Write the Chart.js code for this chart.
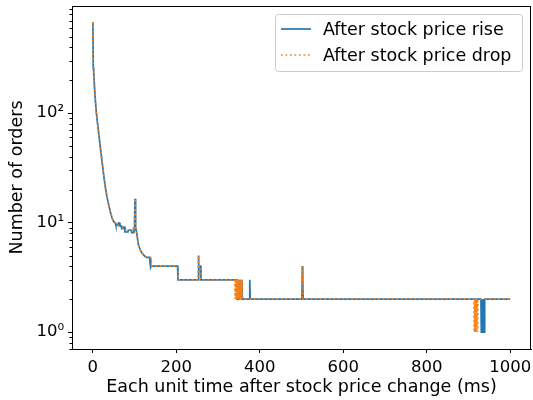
<!DOCTYPE html>
<html>
<head>
<meta charset="utf-8">
<script src="https://cdn.jsdelivr.net/npm/chart.js@4.4.0/dist/chart.umd.min.js"></script>
<style>
  html, body { margin: 0; padding: 0; background: #fff; }
  #wrap { width: 533px; height: 400px; }
</style>
</head>
<body>
<div id="wrap"><canvas id="myChart" width="533" height="400"></canvas></div>
<script>
// Values (x = ms after the price change, y = number of orders)
const riseX = [0, 1, 2, 4, 6, 8, 10, 14, 18, 22, 26, 30, 34, 38, 42, 46, 50, 54, 55, 60, 61, 64, 65, 68, 69, 72, 73, 76, 77, 84, 85, 92, 93, 98, 99, 100, 101, 102, 103, 105, 109, 113, 117, 121, 125, 129, 133, 136, 137, 138, 139, 140, 203, 204, 252, 253, 254, 258, 259,
  345, 346, 347, 348, 349, 350, 351, 352, 353, 354, 355, 356, 357, 358, 375, 376, 377,
  501, 502, 503, 504, 930, 931, 932, 933, 934, 935, 936, 937, 938, 939, 1000];
const riseY = [680, 260, 240, 170, 130, 105, 88, 66, 48, 36, 27, 21, 17, 14.5, 12.5, 11, 10.2, 9.9, 9.5, 9.5, 9.9, 9.9, 9.3, 9.3, 8.8, 8.8, 9.1, 9.1, 8.2, 8.2, 8.5, 8.5, 8.1, 8.1, 8.6, 10, 16.5, 11, 9, 8.1, 6.3, 5.7, 5.3, 5.1, 4.9, 4.8, 4.8, 4.8, 4.3, 4.8, 3.9, 4, 4, 3, 3, 5, 4, 4, 3,
  3, 2, 3, 2, 3, 2, 3, 2, 3, 2, 3, 2, 3, 2, 2, 3, 2,
  2, 4, 3, 2, 2, 1, 2, 1, 2, 1, 2, 1, 1, 2, 2];

const dropX = [0, 1, 2, 4, 6, 8, 10, 14, 18, 22, 26, 30, 34, 38, 42, 46, 50, 56, 62, 70, 78, 79, 90, 91, 96, 97, 99, 100, 101, 102, 103, 105, 109, 113, 117, 121, 125, 129, 133, 137, 140, 141, 203, 204, 252, 253, 254, 258, 259,
  340, 341, 342, 343, 344, 345, 346, 347, 348, 349, 350, 351, 352, 353, 354, 355, 356, 357, 358, 359, 360,
  501, 502, 503, 504, 913, 914, 915, 916, 917, 918, 919, 920, 921, 922, 923, 1000];
const dropY = [680, 260, 240, 170, 130, 105, 88, 66, 48, 36, 27, 21, 17, 14.5, 12.5, 11, 10.2, 9.7, 9.3, 9.0, 8.9, 8.6, 8.6, 8.9, 8.9, 8.5, 8.6, 10, 16.5, 11, 9, 8.1, 6.3, 5.7, 5.3, 5.1, 4.9, 4.8, 4.8, 4.8, 4.6, 4, 4, 3, 3, 5, 4, 4, 3,
  3, 2, 3, 2, 3, 2, 3, 2, 3, 2, 3, 2, 3, 2, 3, 2, 3, 2, 3, 2, 2,
  2, 4, 3, 2, 2, 1, 2, 1, 2, 1, 2, 1, 2, 1, 2, 2];

const seriesLabels = ["After stock price rise", "After stock price drop"];
const xTicks = [0, 200, 400, 600, 800, 1000];
const yTicks = [1, 10, 100];
const yTickLabels = ["10⁰", "10¹", "10²"];

const FONT = "'DejaVu Sans', sans-serif";
const TEXT_SIZE = 17.5;
const TICK_SIZE = 16.5;

function toPoints(xs, ys) {
    let pts = [];
    for (let i = 0; i < xs.length; i++) {
        pts.push({x: xs[i], y: ys[i]});
    }
    return pts;
}

// box round the plot area, like matplotlib spines
const framePlugin = {
    id: "frame",
    afterDraw(chart) {
        let a = chart.chartArea;
        let ctx = chart.ctx;
        ctx.save();
        ctx.strokeStyle = "#000";
        ctx.lineWidth = 1;
        ctx.strokeRect(a.left + 0.5, a.top + 0.5, a.right - a.left - 1, a.bottom - a.top);
        ctx.restore();
    }
};

// short minor ticks on the log axis
const minorTicksPlugin = {
    id: "minorTicks",
    afterDraw(chart) {
        let s = chart.scales.y;
        let ctx = chart.ctx;
        ctx.save();
        ctx.strokeStyle = "#000";
        ctx.lineWidth = 1;
        for (let d = 0.1; d <= 100; d *= 10) {
            for (let m = 2; m <= 9; m++) {
                let v = d * m;
                if (v < s.min || v > s.max) continue;
                let y = Math.round(s.getPixelForValue(v)) + 0.5;
                ctx.beginPath();
                ctx.moveTo(chart.chartArea.left, y);
                ctx.lineTo(chart.chartArea.left - 2.5, y);
                ctx.stroke();
            }
        }
        ctx.restore();
    }
};

// matplotlib-like legend in the upper right corner
const legendPlugin = {
    id: "mplLegend",
    afterDraw(chart) {
        let ctx = chart.ctx;
        let boxL = 275, boxT = 14, boxR = 522, boxB = 71;
        ctx.save();
        ctx.fillStyle = "rgba(255,255,255,0.8)";
        ctx.strokeStyle = "#cccccc";
        ctx.lineWidth = 1;
        ctx.beginPath();
        ctx.roundRect(boxL + 0.5, boxT + 0.5, boxR - boxL, boxB - boxT, 3);
        ctx.fill();
        ctx.stroke();
        let rows = [29, 55];
        chart.data.datasets.forEach((ds, i) => {
            ctx.strokeStyle = ds.borderColor;
            ctx.lineWidth = ds.borderWidth;
            ctx.setLineDash(ds.borderDash || []);
            ctx.beginPath();
            ctx.moveTo(281, rows[i]);
            ctx.lineTo(311, rows[i]);
            ctx.stroke();
            ctx.setLineDash([]);
            ctx.fillStyle = "#000";
            ctx.font = TEXT_SIZE + "px " + FONT;
            ctx.textBaseline = "middle";
            ctx.fillText(ds.label, 323, rows[i] + 1);
        });
        ctx.restore();
    }
};

let data = {
    datasets: [{
        label: seriesLabels[0],
        data: toPoints(riseX, riseY),
        borderColor: "#1f77b4",
        borderWidth: 1.7,
        pointRadius: 0,
        fill: false,
        tension: 0,
        order: 1
    }, {
        label: seriesLabels[1],
        data: toPoints(dropX, dropY),
        borderColor: "#ff7f0e",
        borderWidth: 1.7,
        borderDash: [1.7, 2.8],
        pointRadius: 0,
        fill: false,
        tension: 0,
        order: 0
    }]
};

let config = {
    type: "line",
    data,
    options: {
        responsive: false,
        animation: false,
        devicePixelRatio: 1,
        layout: {
            padding: {left: 0, right: 2, top: 6, bottom: 0}
        },
        plugins: {
            legend: {display: false},
            tooltip: {enabled: false}
        },
        scales: {
            x: {
                type: "linear",
                min: -50,
                max: 1050,
                afterBuildTicks: s => { s.ticks = xTicks.map(v => ({value: v})); },
                afterFit: s => {
                    s.height = 51;
                    s.paddingLeft = 0;
                    s.paddingRight = 0;
                },
                grid: {drawOnChartArea: false, tickLength: 4, tickColor: "#000"},
                border: {display: true, color: "#000"},
                ticks: {
                    color: "#000",
                    font: {family: FONT, size: TICK_SIZE},
                    padding: 5,
                    maxRotation: 0,
                    callback: v => String(v)
                },
                title: {
                    display: true,
                    text: "Each unit time after stock price change (ms)",
                    color: "#000",
                    font: {family: FONT, size: TEXT_SIZE},
                    padding: {top: 0, bottom: 2}
                }
            },
            y: {
                type: "logarithmic",
                min: 0.72,
                max: 950,
                afterBuildTicks: s => { s.ticks = yTicks.map(v => ({value: v})); },
                afterFit: s => {
                    s.width = 72;
                    s.paddingTop = 0;
                    s.paddingBottom = 0;
                },
                grid: {drawOnChartArea: false, tickLength: 4, tickColor: "#000"},
                border: {display: true, color: "#000"},
                ticks: {
                    color: "#000",
                    font: {family: FONT, size: TICK_SIZE},
                    padding: 4,
                    callback: (v) => {
                        let i = yTicks.indexOf(v);
                        return i >= 0 ? yTickLabels[i] : "";
                    }
                },
                title: {
                    display: true,
                    text: "Number of orders",
                    color: "#000",
                    font: {family: FONT, size: TEXT_SIZE},
                    padding: {top: 7, bottom: 0}
                }
            }
        }
    },
    plugins: [framePlugin, minorTicksPlugin, legendPlugin]
};

let myChart = new Chart(document.getElementById("myChart"), config);
</script>
</body>
</html>
